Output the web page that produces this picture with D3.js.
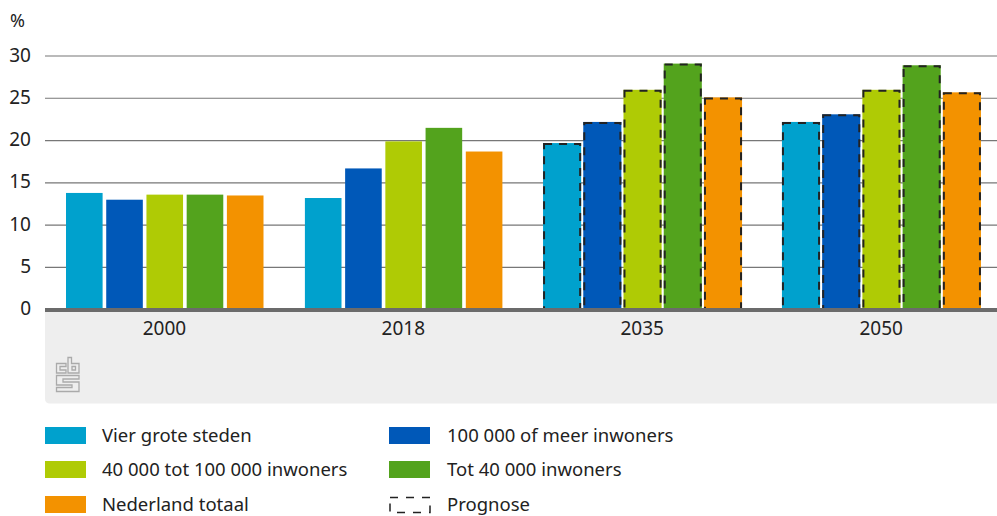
<!DOCTYPE html>
<html>
<head>
<meta charset="utf-8">
<script src="https://cdnjs.cloudflare.com/ajax/libs/d3/7.9.0/d3.min.js"></script>
<style>
  html, body { margin: 0; padding: 0; background: #fff; }
  svg { display: block; }
  text { font-family: "Noto Sans", sans-serif; fill: #222; }
</style>
</head>
<body>
<svg id="chart" width="997" height="516"></svg>
<script>
// Share of the population per municipality size class
const years = ["2000", "2018", "2035", "2050"];
const seriesNames = [
  "Vier grote steden",
  "100 000 of meer inwoners",
  "40 000 tot 100 000 inwoners",
  "Tot 40 000 inwoners",
  "Nederland totaal"
];
const seriesColors = ["#00a1cd", "#0058b8", "#afcb05", "#53a31d", "#f39200"];
const vierGroteSteden = [13.8, 13.2, 19.7, 22.2];
const honderdDuizendPlus = [13.0, 16.7, 22.2, 23.1];
const veertigTotHonderd = [13.6, 19.9, 26.0, 26.0];
const totVeertig = [13.6, 21.5, 29.1, 28.9];
const nederlandTotaal = [13.5, 18.7, 25.1, 25.7];
const seriesValues = [vierGroteSteden, honderdDuizendPlus, veertigTotHonderd, totVeertig, nederlandTotaal];
const forecastYears = ["2035", "2050"];
const yTicks = [0, 5, 10, 15, 20, 25, 30];
const unitLabel = "%";
const forecastLabel = "Prognose";

const svg = d3.select("#chart");
const plotLeft = 45, plotRight = 997;

const y = d3.scaleLinear().domain([0, 30]).range([309.6, 56]);
const x0 = d3.scaleBand().domain(years).range([plotLeft, plotLeft + 955.6]);
const x1 = d3.scaleBand().domain(seriesNames).range([0, 197.5]).paddingInner(0.09).paddingOuter(0);

// Grey footer panel below the axis, rounded at the lower left
svg.append("path")
  .attr("d", "M45 310H997V403.5H50Q45 403.5 45 398.5Z")
  .attr("fill", "#eeeeee");

// Gridlines
svg.append("g").selectAll("line")
  .data(yTicks.filter(d => d > 0))
  .join("line")
  .attr("x1", plotLeft).attr("x2", plotRight)
  .attr("y1", d => y(d)).attr("y2", d => y(d))
  .attr("stroke", "#777").attr("stroke-width", 1.2);

// Y axis labels
svg.append("g").selectAll("text")
  .data(yTicks)
  .join("text")
  .attr("x", 31).attr("y", d => y(d) - 1.5)
  .attr("text-anchor", "end")
  .attr("dominant-baseline", "central")
  .attr("font-size", 19)
  .text(d => d);

svg.append("text")
  .attr("x", 10).attr("y", 27)
  .attr("font-size", 18)
  .text(unitLabel);

// Bars; forecast years are slightly wider and carry a dashed inner outline
const groups = svg.append("g").selectAll("g")
  .data(years)
  .join("g")
  .attr("transform", d => `translate(${x0(d) + 21},0)`);

const barData = (year, i) => seriesNames.map((name, s) => ({
  name, year, value: seriesValues[s][i], color: seriesColors[s]
}));
const flare = d => forecastYears.includes(d.year) ? 0.75 : 0;

groups.selectAll("rect.bar")
  .data(barData)
  .join("rect")
  .attr("class", "bar")
  .attr("x", d => x1(d.name) - flare(d))
  .attr("width", d => x1.bandwidth() + 2 * flare(d))
  .attr("y", d => y(d.value))
  .attr("height", d => 308 - y(d.value))
  .attr("fill", d => d.color);

groups.selectAll("rect.forecast")
  .data((year, i) => forecastYears.includes(year) ? barData(year, i) : [])
  .join("rect")
  .attr("class", "forecast")
  .attr("x", d => x1(d.name) + 0.25)
  .attr("width", x1.bandwidth() - 0.5)
  .attr("y", d => y(d.value) + 1)
  .attr("height", d => 312 - y(d.value))
  .attr("fill", "none")
  .attr("stroke", "#222")
  .attr("stroke-width", 2)
  .attr("stroke-dasharray", "8 7");

// Axis baseline and year labels
svg.append("rect")
  .attr("x", plotLeft).attr("width", plotRight - plotLeft)
  .attr("y", 308).attr("height", 4)
  .attr("fill", "#6b6b6b");

// Covers the foot of the dashed outlines below the baseline
svg.append("rect")
  .attr("x", plotLeft).attr("width", plotRight - plotLeft)
  .attr("y", 312).attr("height", 6)
  .attr("fill", "#eeeeee");

svg.append("g").selectAll("text")
  .data(years)
  .join("text")
  .attr("x", d => x0(d) + x0.bandwidth() / 2)
  .attr("y", 335)
  .attr("text-anchor", "middle")
  .attr("font-size", 19)
  .text(d => d);

// CBS logo
svg.append("path")
  .attr("d", "M66 363.5H56.5V373H66V370H60V366.5H66Z M68 357.5H71.5V363.5H79V373H68Z M72 366.5H75.5V370H72Z M79 375.5H56.5V385H72V387.5H56.5V391.5H79V382H63V379H79Z")
  .attr("fill", "none")
  .attr("stroke", "#aaaaaa")
  .attr("stroke-width", 1.3);

// Legend
const legendSlots = [
  { x: 45, tx: 102, y: 427 },
  { x: 389, tx: 447, y: 427 },
  { x: 45, tx: 102, y: 461 },
  { x: 389, tx: 447, y: 461 },
  { x: 45, tx: 102, y: 496 }
];
const legend = svg.append("g").selectAll("g")
  .data(seriesNames)
  .join("g");
legend.append("rect")
  .attr("x", (d, i) => legendSlots[i].x)
  .attr("y", (d, i) => legendSlots[i].y)
  .attr("width", 41).attr("height", 17)
  .attr("fill", (d, i) => seriesColors[i]);
legend.append("text")
  .attr("x", (d, i) => legendSlots[i].tx)
  .attr("y", (d, i) => legendSlots[i].y + 7.5)
  .attr("dominant-baseline", "central")
  .attr("font-size", 18.5)
  .text(d => d);

svg.append("rect")
  .attr("x", 390).attr("y", 497.5)
  .attr("width", 40).attr("height", 15)
  .attr("fill", "none")
  .attr("stroke", "#222")
  .attr("stroke-width", 1.5)
  .attr("stroke-dasharray", "8 8");
svg.append("text")
  .attr("x", 447).attr("y", 503.5)
  .attr("dominant-baseline", "central")
  .attr("font-size", 18.5)
  .text(forecastLabel);
</script>
</body>
</html>
